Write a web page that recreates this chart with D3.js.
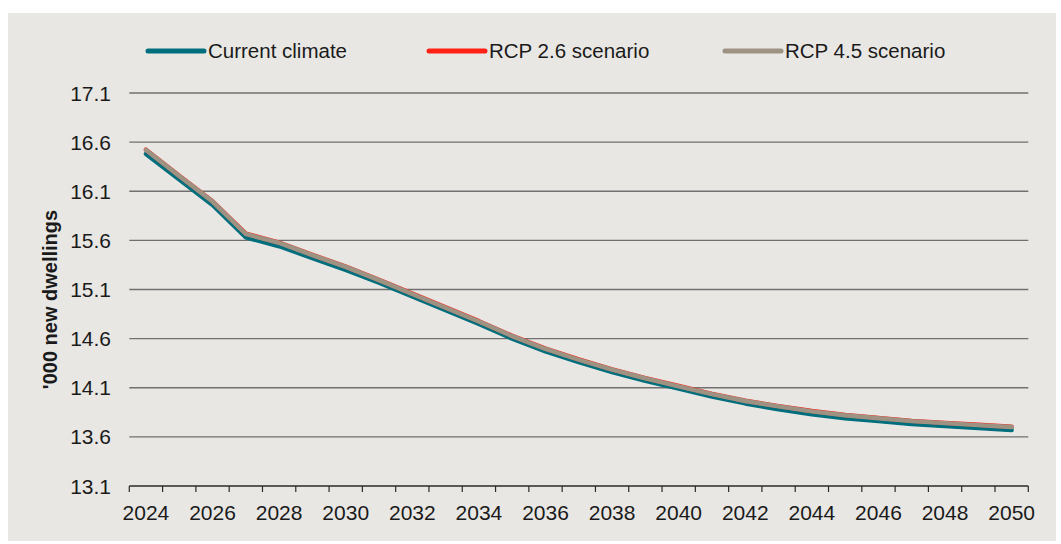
<!DOCTYPE html>
<html>
<head>
<meta charset="utf-8">
<script src="https://cdn.jsdelivr.net/npm/d3@7"></script>
<style>
  html, body { margin: 0; padding: 0; background: #ffffff; }
  svg { display: block; }
  text { font-family: "Liberation Sans", Arial, sans-serif; fill: #1a1a1a; }
</style>
</head>
<body>
<svg id="chart" width="1061" height="544"></svg>
<script>
// Projected new dwellings ('000) by year under three climate assumptions
const years = d3.range(2024, 2051);
const yearLabels = [2024, 2026, 2028, 2030, 2032, 2034, 2036, 2038, 2040, 2042, 2044, 2046, 2048, 2050];
const yTicks = [13.1, 13.6, 14.1, 14.6, 15.1, 15.6, 16.1, 16.6, 17.1];

const currentClimate = [16.48, 16.22, 15.96, 15.63, 15.54, 15.42, 15.30, 15.17, 15.03, 14.89, 14.75, 14.60, 14.47, 14.36, 14.26, 14.17, 14.09, 14.01, 13.94, 13.88, 13.83, 13.79, 13.76, 13.73, 13.71, 13.69, 13.67];
const rcp26 = [16.523, 16.258, 15.998, 15.668, 15.578, 15.453, 15.333, 15.198, 15.058, 14.918, 14.778, 14.628, 14.498, 14.388, 14.288, 14.198, 14.118, 14.038, 13.968, 13.913, 13.863, 13.823, 13.793, 13.763, 13.743, 13.723, 13.703];
const rcp45 = [16.52, 16.255, 15.995, 15.665, 15.575, 15.45, 15.33, 15.195, 15.055, 14.915, 14.775, 14.625, 14.495, 14.385, 14.285, 14.195, 14.115, 14.035, 13.965, 13.91, 13.86, 13.82, 13.79, 13.76, 13.74, 13.72, 13.70];

const seriesNames = ["Current climate", "RCP 2.6 scenario", "RCP 4.5 scenario"];
const seriesColors = ["#006e7c", "#ff2016", "#9e9383"];
const seriesValues = [currentClimate, rcp26, rcp45];

const svg = d3.select("#chart");

// panel background
svg.append("rect")
  .attr("x", 8).attr("y", 13)
  .attr("width", 1048).attr("height", 528)
  .attr("fill", "#e8e7e4");

const plot = { left: 129.3, right: 1028.3, top: 93, bottom: 486 };

const x = d3.scaleBand().domain(years).range([plot.left, plot.right]).padding(0);
const y = d3.scaleLinear().domain([13.1, 17.1]).range([plot.bottom, plot.top]);
const cx = d => x(d) + x.bandwidth() / 2;

// horizontal gridlines
svg.append("g").selectAll("line")
  .data(yTicks.filter(t => t > 13.1))
  .join("line")
  .attr("x1", plot.left).attr("x2", plot.right)
  .attr("y1", d => y(d)).attr("y2", d => y(d))
  .attr("stroke", "#707070").attr("stroke-width", 1.3);

// y tick labels
svg.append("g").selectAll("text")
  .data(yTicks)
  .join("text")
  .attr("x", 111).attr("y", d => y(d) + 7.5)
  .attr("text-anchor", "end")
  .attr("font-size", 21)
  .text(d => d.toFixed(1));

// y axis title
svg.append("text")
  .attr("transform", `translate(57, ${(plot.top + plot.bottom) / 2 + 10}) rotate(-90)`)
  .attr("text-anchor", "middle")
  .attr("font-size", 20)
  .attr("font-weight", "bold")
  .text("'000 new dwellings");

// x axis baseline with ticks at category boundaries
const xAxis = svg.append("g");
xAxis.append("line")
  .attr("x1", plot.left).attr("x2", plot.right)
  .attr("y1", plot.bottom).attr("y2", plot.bottom)
  .attr("stroke", "#2a2a2a").attr("stroke-width", 1.3);
const edges = years.map(d => x(d)).concat([x(years[years.length - 1]) + x.bandwidth()]);
xAxis.selectAll("line.tick")
  .data(edges)
  .join("line")
  .attr("class", "tick")
  .attr("x1", d => d).attr("x2", d => d)
  .attr("y1", plot.bottom).attr("y2", plot.bottom + 6)
  .attr("stroke", "#2a2a2a").attr("stroke-width", 1.2);
xAxis.selectAll("text")
  .data(yearLabels)
  .join("text")
  .attr("x", d => cx(d)).attr("y", 519.5)
  .attr("text-anchor", "middle")
  .attr("font-size", 21)
  .text(d => d);

// series lines
const line = d3.line()
  .x((d, i) => cx(years[i]))
  .y(d => y(d));

svg.append("g").selectAll("path")
  .data(seriesValues)
  .join("path")
  .attr("d", d => line(d))
  .attr("fill", "none")
  .attr("stroke", (d, i) => seriesColors[i])
  .attr("stroke-width", 4.4)
  .attr("stroke-linejoin", "round")
  .attr("stroke-linecap", "round");

// legend
const legendX = [148, 429, 725];
const legend = svg.append("g").selectAll("g")
  .data(seriesNames)
  .join("g")
  .attr("transform", (d, i) => `translate(${legendX[i]}, 51)`);
legend.append("line")
  .attr("x1", 0).attr("x2", 56)
  .attr("y1", 0).attr("y2", 0)
  .attr("stroke", (d, i) => seriesColors[i])
  .attr("stroke-width", 5)
  .attr("stroke-linecap", "round");
legend.append("text")
  .attr("x", 60).attr("y", 7)
  .attr("font-size", 20.5)
  .text(d => d);
</script>
</body>
</html>
